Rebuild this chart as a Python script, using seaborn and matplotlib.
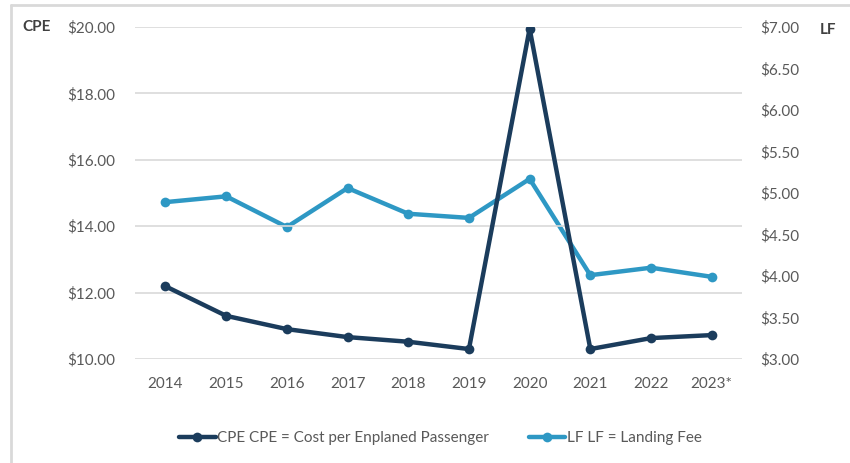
import matplotlib
matplotlib.use("Agg")
import matplotlib.pyplot as plt
import matplotlib.lines as mlines
import pandas as pd
import seaborn as sns

years = ["2014", "2015", "2016", "2017", "2018", "2019", "2020", "2021", "2022", "2023*"]
cpe = [12.19, 11.30, 10.90, 10.66, 10.52, 10.30, 19.95, 10.30, 10.63, 10.72]
lf = [4.89, 4.96, 4.59, 5.06, 4.75, 4.70, 5.17, 4.01, 4.10, 3.99]
cpe_ticks = [10, 12, 14, 16, 18, 20]
lf_ticks = [3.0, 3.5, 4.0, 4.5, 5.0, 5.5, 6.0, 6.5, 7.0]

cpe_label = "CPE CPE = Cost per Enplaned Passenger"
lf_label = "LF LF = Landing Fee"

dark = "#1b3c5c"
light = "#2e98c4"
grey_text = "#595959"

sns.set_theme(style="white")
plt.rcParams["font.family"] = ["Lato", "DejaVu Sans"]

df = pd.DataFrame({"year": years, "cpe": cpe, "lf": lf})
df["x"] = range(len(years))

fig = plt.figure(figsize=(8.5, 4.63), dpi=100)
ax = fig.add_axes([0.159, 0.2246, 0.714, 0.7171])
ax2 = ax.twinx()

sns.lineplot(data=df, x="x", y="lf", ax=ax2, color=light, linewidth=3.2,
             marker="o", markersize=7, markeredgewidth=0, zorder=2)
sns.lineplot(data=df, x="x", y="cpe", ax=ax, color=dark, linewidth=3.2,
             marker="o", markersize=7, markeredgewidth=0, zorder=3)
ax.set_zorder(ax2.get_zorder() + 1)
ax.patch.set_visible(False)

ax.set_xlim(-0.5, len(years) - 0.5)
ax.set_ylim(10, 20)
ax2.set_ylim(3, 7)
ax.set_xticks(df["x"])
ax.set_xticklabels(years)
ax.set_yticks(cpe_ticks)
ax.set_yticklabels([f"${v:.2f}" for v in cpe_ticks])
ax2.set_yticks(lf_ticks)
ax2.set_yticklabels([f"${v:.2f}" for v in lf_ticks])

ax.yaxis.grid(True, color="#d9d9d9", linewidth=1.2)
ax.set_axisbelow(True)
for a in (ax, ax2):
    for s in a.spines.values():
        s.set_visible(False)
    a.set_xlabel("")
    a.set_ylabel("")
    a.tick_params(length=0, labelsize=11, labelcolor=grey_text)
ax.tick_params(axis="x", pad=13)
ax.tick_params(axis="y", pad=14)
ax2.tick_params(axis="y", pad=13)

fig.text(0.026, 0.941, "CPE", fontsize=11, fontweight="bold", color="#404040",
         ha="left", va="center")
fig.text(0.964, 0.935, "LF", fontsize=11, fontweight="bold", color="#404040",
         ha="left", va="center")

# thin frame around the chart area
fig.add_artist(mlines.Line2D([0.0135, 0.0135], [0, 0.989], color="#d9d9d9",
                             linewidth=2, transform=fig.transFigure))
fig.add_artist(mlines.Line2D([0.0135, 1.0], [0.989, 0.989], color="#d9d9d9",
                             linewidth=2, transform=fig.transFigure))

handles = [
    mlines.Line2D([], [], color=dark, linewidth=3.2, marker="o", markersize=7,
                  markeredgewidth=0),
    mlines.Line2D([], [], color=light, linewidth=3.2, marker="o", markersize=7,
                  markeredgewidth=0),
]
fig.legend(handles, [cpe_label, lf_label], loc="center", ncol=2,
           bbox_to_anchor=(0.518, 0.054), frameon=False, fontsize=11,
           labelcolor=grey_text, handlelength=2.4, handletextpad=0.1,
           columnspacing=2.6)

fig.savefig("out.png", dpi=100, facecolor="white")
